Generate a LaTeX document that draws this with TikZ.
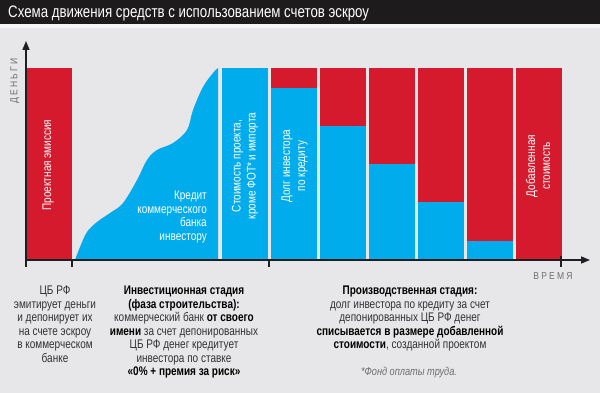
\documentclass[tikz,border=0pt]{standalone}
\usepackage{fontspec}
\setmainfont[FakeStretch=0.8]{Liberation Sans}
\newfontfamily\spacedfont[FakeStretch=0.85,LetterSpace=22]{Liberation Sans}
\usetikzlibrary{arrows.meta}
\definecolor{bg}{RGB}{231,231,233}
\definecolor{barred}{RGB}{214,26,46}
\definecolor{barblue}{RGB}{0,172,236}
\definecolor{titlebar}{RGB}{30,27,28}
\definecolor{axiscol}{RGB}{30,30,35}
\definecolor{txt}{RGB}{50,50,52}
\definecolor{greytxt}{RGB}{110,110,112}
\tikzset{
  bartext/.style={text=white, font=\fontsize{12.5}{15}\selectfont, align=center, inner sep=0pt, rotate=90},
  bodytext/.style={text=txt, font=\fontsize{12.5}{13.5}\selectfont, align=center, inner sep=0pt},
  axisline/.style={draw=axiscol, line width=1.5pt},
  ticks/.style={draw=axiscol, line width=1.3pt},
  axislabel/.style={text=greytxt, font=\spacedfont\fontsize{10}{12}\selectfont, inner sep=0pt}
}
\newcommand{\bk}[1]{\textbf{\textcolor{black}{#1}}}
\begin{document}
\begin{tikzpicture}[x=1pt,y=-1pt]
\useasboundingbox (0,0) rectangle (600,393);
\fill[bg] (0,0) rectangle (600,393);
\fill[titlebar] (0,0) rectangle (600,24);
\fill[white!60!bg] (0,24) rectangle (600,28);
\node[anchor=west, text=white, font=\fontsize{16.6}{20}\selectfont, inner sep=0pt] (title) at (8,13) {Схема движения средств с использованием счетов эскроу};

% bars
\fill[barred] (27,68) rectangle (72,260);
\fill[barblue] plot[smooth, tension=0.6] coordinates {(75,260) (80,247) (87,232) (97,222) (110,213) (123,203) (137,180) (147,160) (157,150) (173,143) (187,130) (193,110) (203,87) (213,73) (218,68)} -- (218,260) -- cycle;
\fill[barblue] (222,68) rectangle (268,260);
\foreach \x/\h in {271/88, 320/126, 369/164, 418/202, 467/241} {
  \fill[barred] (\x,68) rectangle (\x+46,\h);
  \fill[barblue] (\x,\h) rectangle (\x+46,260);
}
\fill[barred] (516,68) rectangle (562,260);

% bar texts
\node[bartext] (emission) at (48,165) {Проектная эмиссия};
\node[text=white, font=\fontsize{12.5}{13.7}\selectfont, align=right, inner sep=0pt, anchor=base east] (credit) at (207,240.5) {Кредит\\коммерческого\\банка\\инвестору};
\node[bartext] (cost) at (245,166) {Стоимость проекта,\\кроме ФОТ* и импорта};
\node[bartext] (debt) at (294.5,166) {Долг инвестора\\по кредиту};
\node[bartext] (added) at (538,166) {Добавленная\\стоимость};

% axes
\coordinate (origin) at (26,260);
\coordinate (ytop) at (26,41);
\coordinate (xend) at (590,260);
\coordinate (obot) at (26,267);
\draw[axisline, -{Triangle[length=9pt,width=7pt]}] (origin) -- (ytop);
\draw[axisline, -{Triangle[length=9pt,width=7pt]}] (origin) -- (xend);
\draw[ticks] (origin) -- (obot);
\coordinate (t1a) at (72,260); \coordinate (t1b) at (72,267);
\coordinate (t2a) at (269,260); \coordinate (t2b) at (269,267);
\coordinate (t3a) at (561,256); \coordinate (t3b) at (561,267);
\draw[ticks] (t1a) -- (t1b);
\draw[ticks] (t2a) -- (t2b);
\draw[ticks] (t3a) -- (t3b);
\node[axislabel, rotate=90] (money) at (15,81) {ДЕНЬГИ};
\node[axislabel] (time) at (553,276) {ВРЕМЯ};

% bottom texts
\node[bodytext, anchor=north] (cb) at (55,286) {ЦБ РФ\\эмитирует деньги\\и депонирует их\\на счете эскроу\\в коммерческом\\банке};
\node[bodytext, anchor=north] (invest) at (184,286) {\bk{Инвестиционная стадия}\\\bk{(фаза строительства):}\\коммерческий банк \bk{от своего}\\\bk{имени} за счет депонированных\\ЦБ РФ денег кредитует\\инвестора по ставке\\\bk{«0\% + премия за риск»}};
\node[bodytext, anchor=north] (prod) at (410,286) {\bk{Производственная стадия:}\\долг инвестора по кредиту за счет\\депонированных ЦБ РФ денег\\\bk{списывается в размере добавленной}\\\bk{стоимости}, созданной проектом};
\node[text=greytxt, font=\itshape\fontsize{11.5}{13}\selectfont, inner sep=0pt] (foot) at (409,373) {*Фонд оплаты труда.};
\end{tikzpicture}
\end{document}
